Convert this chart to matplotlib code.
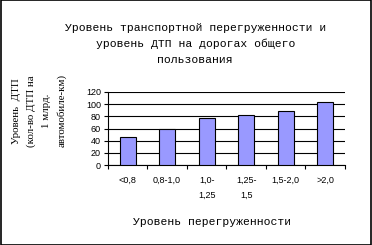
import numpy as np
import matplotlib.pyplot as plt
from matplotlib.patches import Rectangle

# data
categories = ['<0,8', '0,8-1,0', '1,0-\n1,25', '1,25-\n1,5', '1,5-2,0', '>2,0']
accidents = [46, 60, 78, 82, 88, 103]
y_ticks = [0, 20, 40, 60, 80, 100, 120]

title = 'Уровень транспортной перегруженности и\nуровень ДТП на дорогах общего\nпользования'
ylabel = 'Уровень  ДТП\n(кол-во ДТП на\n1 млрд.\nавтомобиле-км)'
xlabel = 'Уровень перегруженности'

mono = 'Liberation Mono'
sans = 'Liberation Sans'

fig = plt.figure(figsize=(3.72, 2.45), dpi=100)
fig.patches.append(Rectangle((0.002, 0.002), 0.996, 0.996, transform=fig.transFigure,
                             fill=False, edgecolor='black', linewidth=1.2))

ax = fig.add_axes([0.290, 0.3265, 0.637, 0.298])
x = np.arange(len(categories))
ax.bar(x, accidents, width=0.4, color='#9999FF', edgecolor='black', linewidth=0.8, zorder=3)

ax.set_ylim(0, 120)
ax.set_xlim(-0.5, len(categories) - 0.5)
ax.set_yticks(y_ticks)
ax.set_yticklabels([str(v) for v in y_ticks], fontfamily=sans, fontsize=6.5)
ax.set_xticks(x)
ax.set_xticklabels(categories, fontfamily=sans, fontsize=6.5, linespacing=1.75)
ax.set_xticks(np.arange(-0.5, len(categories)), minor=True)
ax.tick_params(axis='x', which='major', length=0, pad=8)
ax.tick_params(axis='x', which='minor', length=3, width=0.8)
ax.tick_params(axis='y', length=3, width=0.8, pad=2)
ax.grid(axis='y', color='black', linewidth=0.8, zorder=0)
for s in ['top', 'right']:
    ax.spines[s].set_visible(False)
ax.spines['left'].set_linewidth(0.8)
ax.spines['bottom'].set_linewidth(0.8)

fig.text(0.525, 0.82, title, ha='center', va='center', fontfamily=mono,
         fontsize=8.2, linespacing=1.75)
fig.text(0.57, 0.094, xlabel, ha='center', va='center', fontfamily=mono, fontsize=8.2)
fig.text(0.105, 0.547, ylabel, ha='center', va='center', rotation=90,
         fontfamily='Liberation Serif', fontsize=7.8, linespacing=1.8)

fig.savefig('out.png', dpi=100)
